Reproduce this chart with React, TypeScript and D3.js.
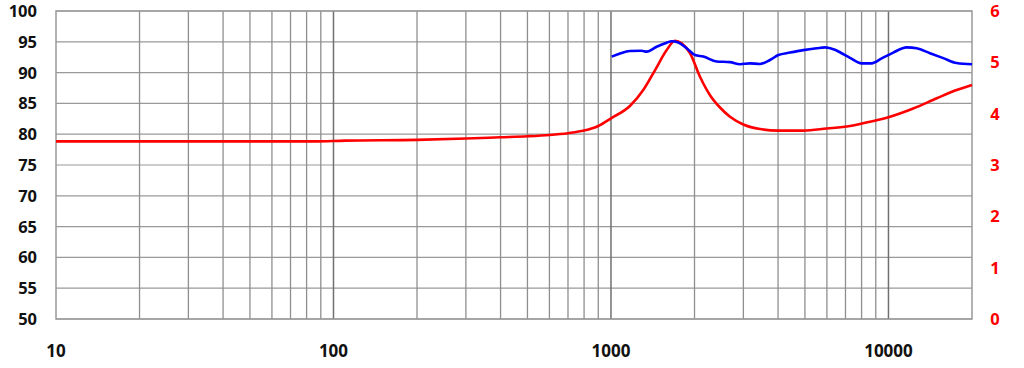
import React from "react";
import * as d3 from "d3";

// Sound pressure level (dB) — blue
const splFreq = [1006, 1078, 1170, 1290, 1345, 1461, 1588, 1654, 1748, 1874, 2008, 2151, 2404, 2685, 2917, 3169, 3443, 3741, 4008, 4416, 4931, 5508, 5903, 6412, 6686, 7265, 8006, 8690, 9452, 10405, 11630, 12640, 14110, 15760, 17610, 20000];
const splValues = [92.6, 93.1, 93.5, 93.55, 93.4, 94.2, 94.85, 95.1, 94.9, 93.95, 92.85, 92.6, 91.8, 91.7, 91.35, 91.5, 91.4, 92.05, 92.85, 93.25, 93.65, 93.95, 94.1, 93.7, 93.3, 92.4, 91.5, 91.5, 92.3, 93.25, 94.1, 93.95, 93.15, 92.35, 91.55, 91.35];

// Impedance (ohm) — red
const impFreq = [10, 50, 85, 110, 200, 300, 400, 500, 600, 700, 800, 900, 1000, 1170, 1307, 1442, 1588, 1701, 1798, 1926, 2093, 2275, 2471, 2685, 2999, 3443, 4008, 4931, 5986, 7265, 7889, 10000, 12280, 14930, 17380, 20000];
const impValues = [3.46, 3.46, 3.46, 3.475, 3.49, 3.515, 3.54, 3.56, 3.585, 3.62, 3.67, 3.76, 3.91, 4.15, 4.46, 4.85, 5.24, 5.42, 5.37, 5.18, 4.72, 4.36, 4.12, 3.94, 3.79, 3.70, 3.67, 3.67, 3.71, 3.76, 3.80, 3.93, 4.10, 4.30, 4.45, 4.56];

const leftTicks = [50, 55, 60, 65, 70, 75, 80, 85, 90, 95, 100];
const rightTicks = [0, 1, 2, 3, 4, 5, 6];
const xLabelTicks = [10, 100, 1000, 10000];

const W = 1024;
const H = 368;
const L = 56, R = 972, T = 11, B = 319;

export default function App() {
  const x = d3.scaleLog().domain([10, 20000]).range([L, R]);
  const yL = d3.scaleLinear().domain([50, 100]).range([B, T]);
  const yR = d3.scaleLinear().domain([0, 6]).range([B, T]);

  const gridX: number[] = [];
  for (let dec = 10; dec <= 10000; dec *= 10) {
    for (let m = 1; m <= 9; m++) {
      const f = dec * m;
      if (f > 10 && f < 20000) gridX.push(f);
    }
  }

  const splLine = d3
    .line<number>()
    .x((_, i) => x(splFreq[i]))
    .y((v) => yL(v))
    .curve(d3.curveMonotoneX)(splValues) as string;

  const impLine = d3
    .line<number>()
    .x((_, i) => x(impFreq[i]))
    .y((v) => yR(v))
    .curve(d3.curveMonotoneX)(impValues) as string;

  const font = "'Open Sans', 'DejaVu Sans', sans-serif";

  return (
    <svg
      width={W}
      height={H}
      style={{ position: "absolute", left: 0, top: 0, background: "#fff" }}
    >
      {/* horizontal grid */}
      {leftTicks.map((t) => (
        <line key={"h" + t} x1={L} x2={R} y1={yL(t)} y2={yL(t)} stroke="#999" strokeWidth={1.2} />
      ))}
      {/* vertical grid */}
      {gridX.map((f) => {
        const decade = Math.abs(Math.log10(f) - Math.round(Math.log10(f))) < 1e-9;
        return (
          <line
            key={"v" + f}
            x1={x(f)}
            x2={x(f)}
            y1={T}
            y2={B}
            stroke={decade ? "#707070" : "#8f8f8f"}
            strokeWidth={decade ? 1.5 : 1.3}
          />
        );
      })}
      {/* frame */}
      <rect x={L} y={T} width={R - L} height={B - T} fill="none" stroke="#999" strokeWidth={1.5} />

      {/* curves */}
      <path d={impLine} fill="none" stroke="#ff0000" strokeWidth={2.6} strokeLinejoin="round" />
      <path d={splLine} fill="none" stroke="#0000ff" strokeWidth={2.6} strokeLinejoin="round" />

      {/* left axis labels */}
      {leftTicks.map((t) => (
        <text
          key={"lt" + t}
          x={37}
          y={yL(t)}
          dy="0.36em"
          textAnchor="end"
          fontFamily={font}
          fontWeight={700}
          fontSize={16.5}
          fill="#111"
        >
          {t}
        </text>
      ))}
      {/* right axis labels */}
      {rightTicks.map((t) => (
        <text
          key={"rt" + t}
          x={995}
          y={yR(t)}
          dy="0.36em"
          textAnchor="middle"
          fontFamily={font}
          fontWeight={700}
          fontSize={16.5}
          fill="#ff0000"
        >
          {t}
        </text>
      ))}
      {/* x axis labels */}
      {xLabelTicks.map((t) => (
        <text
          key={"xt" + t}
          x={x(t)}
          y={351}
          dy="0.36em"
          textAnchor="middle"
          fontFamily={font}
          fontWeight={700}
          fontSize={17}
          fill="#111"
        >
          {t}
        </text>
      ))}
    </svg>
  );
}
